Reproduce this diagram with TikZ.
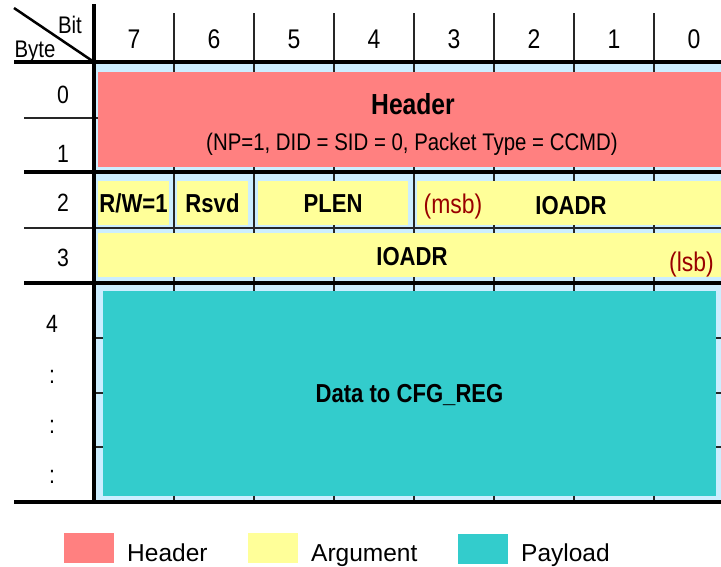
\documentclass[tikz,border=0pt]{standalone}
\usepackage{fontspec}
\setmainfont[FakeStretch=0.85]{Liberation Sans}
\newfontfamily\legendfont{Liberation Sans}
\definecolor{hdrred}{HTML}{FF8080}
\definecolor{argyellow}{HTML}{FFFF99}
\definecolor{payteal}{HTML}{33CCCC}
\definecolor{cellblue}{HTML}{CCEEFF}
\definecolor{bitred}{HTML}{990000}
\begin{document}
\begin{tikzpicture}[x=1pt,y=-1pt,
  colnum/.style={anchor=base,inner sep=0,font=\fontsize{27}{30}\selectfont},
  rownum/.style={anchor=base,inner sep=0,font=\fontsize{25}{28}\selectfont},
  corner/.style={anchor=base,inner sep=0,font=\fontsize{24}{26}\selectfont},
  field/.style={inner sep=0,text height=18.7pt,text depth=0pt,font=\bfseries\fontsize{26}{28}\selectfont},
  fieldtext/.style={anchor=base,inner sep=0,font=\bfseries\fontsize{26}{28}\selectfont},
  bitnote/.style={anchor=base,inner sep=0,text=bitred,font=\fontsize{27}{30}\selectfont},
  legbox/.style={minimum width=50pt,minimum height=30pt,inner sep=0},
  legtext/.style={anchor=base west,inner sep=0,font=\legendfont\fontsize{24.5}{28}\selectfont},
  heavy/.style={line width=4pt},
  light/.style={line width=1.5pt,draw=black!85}]
\useasboundingbox (0,0) rectangle (721,566);
\clip (0,0) rectangle (721,566);
% cell area and grid
\fill[cellblue] (94,62) rectangle (734,502);
\foreach \x in {174,254,...,654} \draw[light] (\x,13)--(\x,502);
\draw[light] (24,118)--(734,118);
\draw[light] (24,228)--(734,228);
\foreach \y in {338,393,447} \draw[light] (94,\y)--(734,\y);
% fields
\node[field,fill=hdrred,minimum width=632pt,minimum height=95pt] (hdr) at (414,119.5) {};
\node[fieldtext,font=\bfseries\fontsize{29}{32}\selectfont] (hdrtitle) at (413,114) {Header};
\node[anchor=base,inner sep=0,font=\fontsize{24}{26}\selectfont] (hdrnote) at (412,150) {(NP=1, DID = SID = 0, Packet Type = CCMD)};
\node[field,fill=argyellow,minimum width=71pt,minimum height=44pt] (rw) at (133.5,203) {R/W=1};
\node[field,fill=argyellow,minimum width=71pt,minimum height=44pt] (rsvd) at (212.5,203) {Rsvd};
\node[field,fill=argyellow,minimum width=150pt,minimum height=44pt] (plen) at (333,203) {PLEN};
\node[field,fill=argyellow,minimum width=313pt,minimum height=44pt] (adrhi) at (573.5,203) {};
\node[fieldtext] (adrhitext) at (571,214) {IOADR};
\node[bitnote] (msb) at (453,213) {(msb)};
\node[field,fill=argyellow,minimum width=632pt,minimum height=44pt] (adrlo) at (414,255) {};
\node[fieldtext] (adrlotext) at (412,265) {IOADR};
\node[bitnote,anchor=base east] (lsb) at (714,271) {(lsb)};
\node[field,fill=payteal,minimum width=613pt,minimum height=205pt] (data) at (409.5,393.5) {Data to CFG\_REG};
% rules
\draw[heavy] (94,4)--(94,504);
\draw[heavy] (14,62)--(734,62);
\draw[heavy] (24,172)--(734,172);
\draw[heavy] (24,283)--(734,283);
\draw[heavy] (14,502)--(734,502);
\draw[line width=2.5pt] (14,8)--(94,62);
% headings
\node[corner] (bit) at (70,33) {Bit};
\node[corner] (byte) at (35,57) {Byte};
\foreach \b in {0,...,7} \node[colnum] (col\b) at ({694-80*\b},48) {\b};
\node[rownum] (row0) at (63,103) {0};
\node[rownum] (row1) at (63,162) {1};
\node[rownum] (row2) at (63,211) {2};
\node[rownum] (row3) at (63,266) {3};
\node[rownum] (row4) at (52,332) {4};
\foreach \y [count=\i] in {383,433,483} \node[rownum] (dots\i) at (52,\y) {:};
% legend
\node[legbox,fill=hdrred] (lhdr) at (89,548) {};
\node[legtext] (thdr) at (127,561) {Header};
\node[legbox,fill=argyellow] (larg) at (273,548) {};
\node[legtext] (targ) at (311,561) {Argument};
\node[legbox,fill=payteal] (lpay) at (483,549) {};
\node[legtext] (tpay) at (521,561) {Payload};
\end{tikzpicture}
\end{document}
